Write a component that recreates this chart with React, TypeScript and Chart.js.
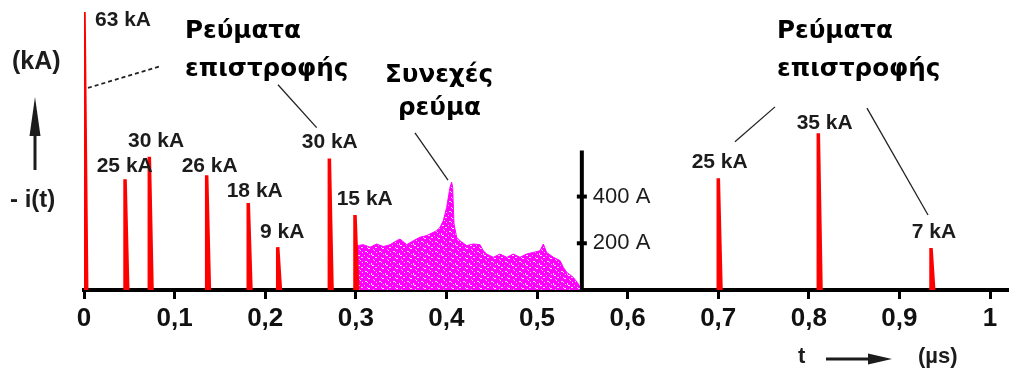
import React, { useEffect, useRef } from 'react';
import { Chart, registerables } from 'chart.js';

Chart.register(...registerables);

// ---- data ----
const xTickValues = [0, 0.1, 0.2, 0.3, 0.4, 0.5, 0.6, 0.7, 0.8, 0.9, 1];

// return-stroke current spikes (time in µs, peak height in kA as drawn)
const spikeTimes = [0, 0.0453, 0.0721, 0.1354, 0.1813, 0.2138, 0.2708, 0.2991, 0.7001, 0.8105, 0.9349];
const spikePeaks = [63, 25.1, 30.2, 26, 19.7, 9.7, 29.8, 17, 25.3, 35.5, 9.5];

// continuous current (time in µs, current in A)
const contTimes = [
  0.3009, 0.3016, 0.3084, 0.3157, 0.323, 0.3304, 0.3378, 0.3451, 0.3488, 0.3562,
  0.3635, 0.3708, 0.3783, 0.3856, 0.3892, 0.3929, 0.3966, 0.4003, 0.404, 0.4058,
  0.4069, 0.4084, 0.4113, 0.415, 0.4224, 0.4297, 0.4371, 0.4407, 0.4445, 0.4518,
  0.4591, 0.4666, 0.4739, 0.4812, 0.4885, 0.496, 0.5033, 0.507, 0.5106, 0.5181,
  0.5254, 0.5291, 0.5327, 0.5401, 0.5456, 0.5493,
];
const contAmps = [
  0, 190, 194, 183, 197, 186, 194, 211, 218, 194,
  211, 226, 233, 247, 254, 268, 297, 354, 440, 461,
  440, 283, 226, 211, 190, 197, 194, 168, 154, 140,
  154, 140, 154, 140, 154, 161, 168, 197, 161, 140,
  126, 97, 76, 54, 26, 0,
];

// secondary current axis (in A)
const secAxisTime = 0.5495;
const secAxisTop = 597;
const secTickValues = [200, 400];
const secTickLabels = ['200 A', '400 A'];

// peak labels (anchor: time, kA level)
const peakLabels = ['63 kA', '30 kA', '25 kA', '26 kA', '18 kA', '9 kA', '30 kA', '15 kA', '25 kA', '35 kA', '7 kA'];
const peakLabelTimes = [0.0121, 0.0486, 0.014, 0.1078, 0.1575, 0.1943, 0.2403, 0.2789, 0.6707, 0.7866, 0.9136];
const peakLabelLevels = [61.1, 33.8, 28.1, 28.1, 22.5, 13.2, 33.4, 20.6, 28.9, 37.9, 13.0];

// group titles (anchor: time, kA level of baseline)
const titleTexts = ['Ρεύματα', 'επιστροφής', 'Ρεύματα', 'επιστροφής', 'Συνεχές', 'ρεύμα'];
const titleTimes = [0.1115, 0.1115, 0.7649, 0.7649, 0.3322, 0.3466];
const titleLevels = [57.0, 48.6, 57.0, 48.6, 47.2, 39.7];

// leader lines (time, kA)
const leaderFrom = [[0.0044, 45.8], [0.2141, 46.5], [0.3653, 35.6], [0.7185, 33.6], [0.8642, 41.2]];
const leaderTo = [[0.0858, 50.8], [0.2568, 36.8], [0.4018, 24.9], [0.7627, 41.5], [0.9316, 17.0]];
const leaderDashed = [true, false, false, false, false];

const FONT = '"Liberation Sans", Arial, sans-serif';
const TITLE_FONT = '"DejaVu Sans", Verdana, sans-serif';
const SPIKE_DECAY = 0.003;

function makePattern(): CanvasPattern | string {
  const c = document.createElement('canvas');
  c.width = 14;
  c.height = 10;
  const g = c.getContext('2d');
  if (!g) return '#ff00ff';
  g.fillStyle = '#ff00ff';
  g.fillRect(0, 0, 14, 10);
  g.fillStyle = 'rgba(255,255,255,0.9)';
  g.fillRect(1, 1, 2, 1);
  g.fillRect(3, 2, 1, 1);
  g.fillRect(7, 3, 1, 2);
  g.fillRect(8, 5, 2, 1);
  g.fillRect(11, 7, 2, 1);
  g.fillRect(3, 7, 1, 1);
  g.fillRect(4, 8, 2, 1);
  g.fillRect(10, 0, 1, 1);
  g.fillRect(12, 2, 1, 1);
  g.fillStyle = 'rgba(255,210,255,0.85)';
  g.fillRect(5, 4, 1, 1);
  g.fillRect(0, 5, 1, 1);
  g.fillRect(9, 9, 1, 1);
  const p = g.createPattern(c, 'repeat');
  return p || '#ff00ff';
}

const annotationPlugin = {
  id: 'lightningAnnotations',
  afterDatasetsDraw(chart: any) {
    const { ctx, chartArea } = chart;
    const x = chart.scales.x;
    const y = chart.scales.y;
    const y2 = chart.scales.y2;
    ctx.save();

    // peak labels
    ctx.font = `bold 21px ${FONT}`;
    ctx.fillStyle = '#1c1c1c';
    ctx.textAlign = 'left';
    ctx.textBaseline = 'middle';
    peakLabels.forEach((t, i) => {
      ctx.fillText(t, x.getPixelForValue(peakLabelTimes[i]), y.getPixelForValue(peakLabelLevels[i]));
    });

    // secondary axis labels
    ctx.font = `22px ${FONT}`;
    secTickLabels.forEach((t, i) => {
      ctx.fillText(t, x.getPixelForValue(secAxisTime) + 11, y2.getPixelForValue(secTickValues[i]));
    });

    // titles
    ctx.font = `bold 24.6px ${TITLE_FONT}`;
    ctx.fillStyle = '#000';
    ctx.textBaseline = 'alphabetic';
    titleTexts.forEach((t, i) => {
      ctx.fillText(t, x.getPixelForValue(titleTimes[i]), y.getPixelForValue(titleLevels[i]));
    });

    // leader lines
    ctx.strokeStyle = '#222';
    ctx.lineWidth = 1.3;
    leaderFrom.forEach((f, i) => {
      const to = leaderTo[i];
      ctx.setLineDash(leaderDashed[i] ? [4, 3] : []);
      ctx.lineWidth = leaderDashed[i] ? 1.8 : 1.3;
      ctx.beginPath();
      ctx.moveTo(x.getPixelForValue(f[0]), y.getPixelForValue(f[1]));
      ctx.lineTo(x.getPixelForValue(to[0]), y.getPixelForValue(to[1]));
      ctx.stroke();
    });
    ctx.setLineDash([]);

    // y-axis label and arrow (left of plot)
    const L = chartArea.left;
    ctx.fillStyle = '#1c1c1c';
    ctx.font = `bold 25px ${FONT}`;
    ctx.textBaseline = 'middle';
    ctx.fillText('(kA)', L - 72, 62.5);
    ctx.font = `bold 24px ${FONT}`;
    ctx.fillText('- i(t)', L - 74, 200);
    ctx.strokeStyle = '#1c1c1c';
    ctx.lineWidth = 3;
    ctx.beginPath();
    ctx.moveTo(L - 49, 170);
    ctx.lineTo(L - 49, 130);
    ctx.stroke();
    ctx.beginPath();
    ctx.moveTo(L - 49, 97);
    ctx.lineTo(L - 54.5, 136);
    ctx.lineTo(L - 43.5, 136);
    ctx.closePath();
    ctx.fill();

    // x-axis title with arrow
    const B = chartArea.bottom;
    ctx.font = `bold 22px ${FONT}`;
    ctx.fillText('t', 798, B + 67);
    ctx.fillText('(µs)', 918, B + 67);
    ctx.beginPath();
    ctx.moveTo(826, B + 69);
    ctx.lineTo(872, B + 69);
    ctx.stroke();
    ctx.beginPath();
    ctx.moveTo(892, B + 69);
    ctx.lineTo(868, B + 63.5);
    ctx.lineTo(868, B + 74.5);
    ctx.closePath();
    ctx.fill();

    ctx.restore();
  },
};

export default function App() {
  const canvasRef = useRef<HTMLCanvasElement | null>(null);

  useEffect(() => {
    if (!canvasRef.current) return;
    const pattern = makePattern();

    const spikeSets = spikeTimes.map((t, i) => ({
      type: 'line' as const,
      data: [
        { x: t, y: 0 },
        { x: t, y: spikePeaks[i] },
        { x: t + SPIKE_DECAY, y: 0 },
      ],
      yAxisID: 'y',
      borderColor: '#ff0000',
      backgroundColor: '#ff0000',
      borderWidth: 3.5,
      fill: 'origin',
      pointRadius: 0,
      tension: 0,
      order: 0,
    }));

    const chart = new Chart(canvasRef.current, {
      type: 'line',
      data: {
        datasets: [
          ...spikeSets,
          {
            type: 'line',
            data: [
              { x: secAxisTime, y: 0 },
              { x: secAxisTime, y: secAxisTop },
            ],
            yAxisID: 'y2',
            borderColor: '#000',
            borderWidth: 4,
            pointRadius: 0,
            fill: false,
            order: 1,
          },
          {
            type: 'scatter',
            data: secTickValues.map((v) => ({ x: secAxisTime, y: v })),
            yAxisID: 'y2',
            pointStyle: 'line',
            pointRadius: 5,
            borderColor: '#000',
            borderWidth: 4,
            showLine: false,
            order: 1,
          },
          {
            type: 'line',
            data: contTimes.map((t, i) => ({ x: t, y: contAmps[i] })),
            yAxisID: 'y2',
            borderColor: '#ff00ff',
            backgroundColor: pattern as any,
            borderWidth: 1,
            fill: 'origin',
            pointRadius: 0,
            tension: 0,
            order: 2,
          },
        ] as any,
      },
      options: {
        animation: false,
        responsive: true,
        maintainAspectRatio: false,
        layout: { autoPadding: false, padding: { left: 84, right: 0, top: 12, bottom: 0 } },
        plugins: {
          legend: { display: false },
          tooltip: { enabled: false },
          title: { display: false },
        },
        scales: {
          x: {
            type: 'linear',
            min: 0,
            max: 925 / 906,
            afterBuildTicks: (scale: any) => {
              scale.ticks = xTickValues.map((v) => ({ value: v }));
            },
            afterFit: (scale: any) => {
              scale.height = 86;
              scale.paddingLeft = 0;
              scale.paddingRight = 0;
            },
            grid: {
              drawOnChartArea: false,
              drawTicks: true,
              tickLength: 9,
              lineWidth: 3,
              color: '#000',
            },
            border: { display: true, width: 4, color: '#000' },
            ticks: {
              autoSkip: false,
              maxRotation: 0,
              padding: 4,
              color: '#111',
              font: { family: FONT, size: 26, weight: 'bold' },
              callback: (v: any) => {
                const n = Number(v);
                if (Math.abs(n) < 1e-9) return '0';
                if (Math.abs(n - 1) < 1e-9) return '1';
                return n.toFixed(1).replace('.', ',');
              },
            },
          },
          y: { type: 'linear', display: false, min: 0, max: 63 },
          y2: { type: 'linear', display: false, min: 0, max: 1190 },
        },
      } as any,
      plugins: [annotationPlugin],
    });

    return () => chart.destroy();
  }, []);

  return (
    <div style={{ position: 'fixed', left: 0, top: 0, width: 1009, height: 376, background: '#fff' }}>
      <canvas ref={canvasRef} />
    </div>
  );
}
